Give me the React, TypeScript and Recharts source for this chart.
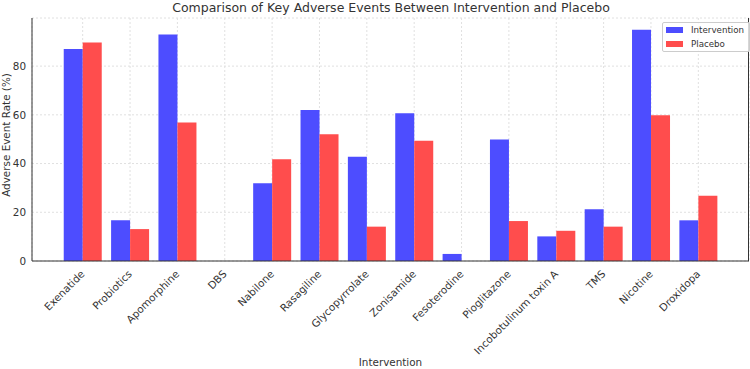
import { BarChart, Bar, XAxis, YAxis, CartesianGrid } from 'recharts';

const interventions = [
    'Exenatide',
    'Probiotics',
    'Apomorphine',
    'DBS',
    'Nabilone',
    'Rasagiline',
    'Glycopyrrolate',
    'Zonisamide',
    'Fesoterodine',
    'Pioglitazone',
    'Incobotulinum toxin A',
    'TMS',
    'Nicotine',
    'Droxidopa',
];
const interventionRates = [87, 16.7, 93, 0, 31.9, 62, 42.8, 60.6, 2.9, 49.9, 10.1, 21.2, 94.9, 16.7];
const placeboRates = [89.7, 13.1, 56.9, 0, 41.8, 52, 14.1, 49.4, 0, 16.4, 12.4, 14.1, 59.8, 26.8];
const yTicks = [0, 20, 40, 60, 80];

const data = interventions.map((name, i) => ({
    name,
    intervention: interventionRates[i],
    placebo: placeboRates[i],
}));

const FONT = '"DejaVu Sans", sans-serif';
const BLUE = '#4d4dff';
const RED = '#ff4d4d';
const TEXT = '#333';

// x labels: rotated 45deg, top-right corner pinned under the tick
const TickLabel = ({ x, y, payload }: any) => (
    <g transform={`translate(${x - 3},${y})`}>
        <text
            transform="rotate(-45)"
            textAnchor="end"
            dominantBaseline="hanging"
            fontSize={10.4}
            fontFamily={FONT}
            fill={TEXT}
        >
            {payload.value}
        </text>
    </g>
);

const LegendBox = () => (
    <div
        style={{
            position: 'absolute',
            top: 22,
            left: 662,
            width: 80,
            border: '1px solid #ccc',
            borderRadius: 2,
            background: 'rgba(255,255,255,0.8)',
            padding: '0 3px',
            fontSize: 8.7,
            color: TEXT,
        }}
    >
        {[
            ['Intervention', BLUE],
            ['Placebo', RED],
        ].map(([label, color]) => (
            <div key={label} style={{ display: 'flex', alignItems: 'center', height: 13.8 }}>
                <span style={{ width: 17, height: 6, background: color, marginRight: 8 }} />
                {label}
            </div>
        ))}
    </div>
);

const App = () => (
    <div style={{ position: 'absolute', left: 0, top: 0, width: 750, height: 369, fontFamily: FONT }}>
        <div
            style={{
                position: 'absolute',
                top: 0,
                left: 32,
                width: 718,
                textAlign: 'center',
                fontSize: 12.5,
                color: TEXT,
            }}
        >
            Comparison of Key Adverse Events Between Intervention and Placebo
        </div>
        <div
            style={{
                position: 'absolute',
                left: 0,
                top: 135,
                width: 12,
                height: 0,
                display: 'flex',
                alignItems: 'center',
                justifyContent: 'center',
            }}
        >
            <span
                style={{
                    transform: 'rotate(-90deg)',
                    whiteSpace: 'nowrap',
                    fontSize: 10.4,
                    color: TEXT,
                }}
            >
                Adverse Event Rate (%)
            </span>
        </div>
        <BarChart
            width={750}
            height={369}
            data={data}
            margin={{ top: 18, right: 1, bottom: 0, left: 0 }}
            barCategoryGap="10%"
            barGap={0}
        >
            <CartesianGrid stroke="#e0e0e0" strokeDasharray="2 2" />
            <XAxis
                dataKey="name"
                height={108}
                interval={0}
                padding={{ left: 27, right: 27 }}
                tick={<TickLabel />}
                tickLine={false}
                stroke={TEXT}
                label={{
                    value: 'Intervention',
                    position: 'insideBottom',
                    offset: 3,
                    fontSize: 10.4,
                    fill: TEXT,
                    fontFamily: FONT,
                }}
            />
            <YAxis
                width={32}
                domain={[0, 99.75]}
                ticks={yTicks}
                tickLine={false}
                tickSize={0}
                tickMargin={6}
                stroke={TEXT}
                tick={{ fontSize: 10.4, fill: TEXT, fontFamily: FONT }}
            />
            <Bar dataKey="intervention" name="Intervention" fill={BLUE} isAnimationActive={false} />
            <Bar dataKey="placebo" name="Placebo" fill={RED} isAnimationActive={false} />
        </BarChart>
        <div
            style={{
                position: 'absolute',
                left: 748,
                top: 18,
                width: 1,
                height: 243,
                background: TEXT,
            }}
        />
        <LegendBox />
    </div>
);

export default App;
